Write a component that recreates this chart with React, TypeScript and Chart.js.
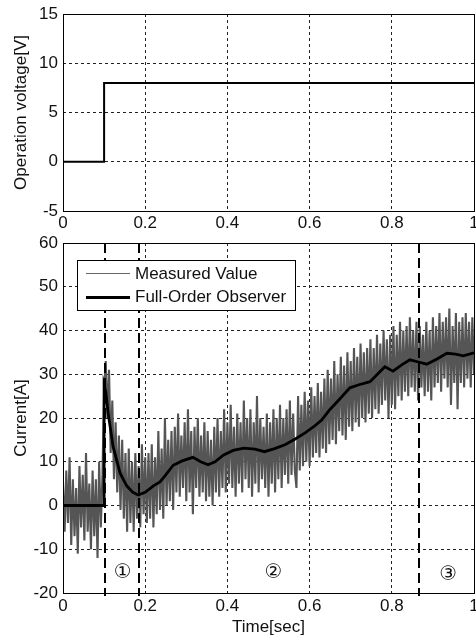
import React, { useEffect, useRef } from 'react';
import { Chart, registerables } from 'chart.js';

Chart.register(...registerables);

// ---------------- data ----------------
// Top panel: operation voltage step
const voltageT = [0, 0.1, 0.1, 1];
const voltageV = [0, 0, 8, 8];

// Bottom panel: full-order observer estimate
const observerT = [0, 0.1, 0.1, 0.104, 0.11, 0.122, 0.139, 0.155, 0.17, 0.183, 0.2, 0.22, 0.236, 0.25, 0.268, 0.29, 0.316, 0.335, 0.353, 0.37, 0.39, 0.414, 0.44, 0.467, 0.49, 0.515, 0.54, 0.565, 0.589, 0.61, 0.629, 0.65, 0.67, 0.698, 0.72, 0.747, 0.765, 0.783, 0.803, 0.825, 0.844, 0.865, 0.885, 0.91, 0.934, 0.955, 0.974, 1.0];
const observerV = [0, 0, 27.5, 26, 21, 13.4, 7.4, 4.5, 3, 2.4, 3, 4.5, 5.4, 7, 9.2, 10.2, 11, 10, 9.3, 10, 11.5, 12.6, 13.1, 12.9, 12.3, 13, 13.9, 15.2, 16.6, 18, 19.5, 22, 24, 26.9, 27.6, 28.3, 30, 31.7, 30.7, 32.2, 33.3, 32.8, 32.3, 33.5, 34.8, 34.6, 34.2, 34.9];

// Bottom panel: measured current, sampled every SAMPLE_DT seconds
const SAMPLE_DT = 0.004;
const measuredV = [
  5, -6, 8, -4, 11, -9, 6, -7, 4, -11, 9, -5, 7, -8, 12, -6, 5, -10, 8, -7, 6, -12, 10, -5, 7,
  26, 33, 20, 31, 12, 24, 6, 19, 3, 16, -1, 15, -3, 12, -6, 13, -4, 10, -6, 12, -3, 9, -5, 14, -2, 11,
  -4, 12, -3, 14, -5, 11, -2, 17, -1, 13, -3, 20, 0, 15, 1, 17, -1, 18, 3, 21, 2, 16, 4, 19, 1, 22, 3, 17, -2, 18, 4, 20, 2, 16, 3, 19, 1, 17, 2, 15, 0, 18, 3, 20, 2, 17, 4, 22, 3, 19,
  5, 23, 4, 18, 2, 21, 5, 19, 3, 24, 6, 20, 4, 22, 2, 19, 5, 25, 3, 20, 6, 18, 4, 21, 2, 19, 5, 22, 3, 20, 6, 23, 4, 20, 7, 22, 5, 24, 7, 21, 8, 4, 25, 8, 23, 9, 26, 10, 24, 9,
  27, 11, 25, 12, 28, 11, 26, 13, 29, 12, 31, 14, 29, 15, 33, 14, 30, 17, 34, 16, 32, 15, 35, 18, 33, 17, 36, 19, 34, 18, 37, 20, 35, 19, 36, 21, 38, 20, 36, 22, 39, 21, 37, 23, 40, 24, 38, 20, 39, 23,
  41, 22, 39, 25, 42, 24, 40, 26, 41, 25, 43, 27, 40, 26, 42, 24, 41, 27, 39, 25, 42, 26, 40, 24, 43, 27, 41, 28, 44, 26, 42, 29, 43, 27, 45, 23, 41, 28, 44, 22, 42, 28, 43, 27, 44, 29, 42, 27, 43, 30,
];

// Phase boundaries (dashed verticals) and phase labels
const phaseBoundaries = [0.101, 0.186, 0.867];
const phaseLabels = ['\u2460', '\u2461', '\u2462'];
const phaseLabelT = [0.145, 0.512, 0.937];
const phaseLabelV = [-15.3, -15.3, -15.8];

const legendLabels = ['Measured Value', 'Full-Order Observer'];

// ---------------- styling ----------------
const FONT = "Arial, 'Liberation Sans', Helvetica, sans-serif";
const TEXT = '#111111';
const GRID = '#222222';
const MEAS_COLOR = '#555555';

const tickFont = { family: FONT, size: 17 };

function fmt(v: number) {
  return String(Math.round(v * 10) / 10);
}

function xScale(height: number, pad: number, title: string | null) {
  return {
    type: 'linear' as const,
    min: 0,
    max: 1,
    ticks: { stepSize: 0.2, color: TEXT, font: tickFont, padding: pad, maxRotation: 0, autoSkip: false, callback: (v: any) => fmt(Number(v)) },
    grid: { color: GRID, lineWidth: 1, drawTicks: false },
    border: { display: false, dash: [3, 3] },
    title: title
      ? { display: true, text: title, color: TEXT, font: tickFont, padding: { top: 0, bottom: 3 } }
      : { display: false },
    afterFit: (s: any) => {
      s.height = height;
      s.paddingLeft = 0;
      s.paddingRight = 0;
    },
  };
}

function yScale(min: number, max: number, step: number, title: string) {
  return {
    type: 'linear' as const,
    min,
    max,
    ticks: { stepSize: step, color: TEXT, font: tickFont, padding: 5, callback: (v: any) => fmt(Number(v)) },
    grid: { color: GRID, lineWidth: 1, drawTicks: false },
    border: { display: false, dash: [3, 3] },
    title: { display: true, text: title, color: TEXT, font: tickFont, padding: { top: 11, bottom: 0 } },
    afterFit: (s: any) => {
      s.width = 63;
      s.paddingTop = 0;
      s.paddingBottom = 0;
    },
  };
}

const boxPlugin = {
  id: 'axesBox',
  afterDraw(chart: any) {
    const { ctx, chartArea: a } = chart;
    ctx.save();
    ctx.strokeStyle = '#000';
    ctx.lineWidth = 1;
    ctx.setLineDash([]);
    ctx.strokeRect(Math.round(a.left) + 0.5, Math.round(a.top) + 0.5, Math.round(a.right - a.left), Math.round(a.bottom - a.top));
    ctx.restore();
  },
};

const phasePlugin = {
  id: 'phases',
  afterDatasetsDraw(chart: any) {
    const { ctx, chartArea: a, scales } = chart;
    ctx.save();
    ctx.strokeStyle = '#000';
    ctx.lineWidth = 2;
    ctx.setLineDash([10, 5]);
    phaseBoundaries.forEach((t) => {
      const x = Math.round(scales.x.getPixelForValue(t));
      ctx.beginPath();
      ctx.moveTo(x, a.top);
      ctx.lineTo(x, a.bottom + 3);
      ctx.stroke();
    });
    ctx.setLineDash([]);
    ctx.fillStyle = TEXT;
    ctx.font = `20px 'DejaVu Sans', 'Noto Sans CJK JP', sans-serif`;
    ctx.textAlign = 'center';
    ctx.textBaseline = 'middle';
    phaseLabels.forEach((lab, i) => {
      ctx.fillText(lab, scales.x.getPixelForValue(phaseLabelT[i]), scales.y.getPixelForValue(phaseLabelV[i]));
    });
    ctx.restore();
  },
};

const legendPlugin = {
  id: 'boxLegend',
  afterDraw(chart: any) {
    const { ctx, chartArea: a } = chart;
    const lx = Math.round(a.left) + 14;
    const ly = Math.round(a.top) + 17;
    const w = 218;
    const h = 50;
    ctx.save();
    ctx.fillStyle = '#fff';
    ctx.fillRect(lx, ly, w, h);
    ctx.strokeStyle = '#000';
    ctx.lineWidth = 1;
    ctx.strokeRect(lx + 0.5, ly + 0.5, w, h);
    const rows = [13, 36.5];
    const styles = [
      { color: '#666666', width: 1 },
      { color: '#000', width: 3 },
    ];
    legendLabels.forEach((lab, i) => {
      const y = ly + rows[i];
      ctx.beginPath();
      ctx.strokeStyle = styles[i].color;
      ctx.lineWidth = styles[i].width;
      ctx.moveTo(lx + 9, Math.round(y) + (styles[i].width % 2 ? 0.5 : 0));
      ctx.lineTo(lx + 53, Math.round(y) + (styles[i].width % 2 ? 0.5 : 0));
      ctx.stroke();
      ctx.fillStyle = TEXT;
      ctx.font = `17px ${FONT}`;
      ctx.textAlign = 'left';
      ctx.textBaseline = 'middle';
      ctx.fillText(lab, lx + 58, y + 1);
    });
    ctx.restore();
  },
};

function topConfig(): any {
  return {
    type: 'line',
    data: {
      datasets: [
        {
          data: voltageT.map((t, i) => ({ x: t, y: voltageV[i] })),
          borderColor: '#000',
          borderWidth: 2,
          pointRadius: 0,
          tension: 0,
          fill: false,
        },
      ],
    },
    options: {
      responsive: false,
      maintainAspectRatio: false,
      animation: false,
      devicePixelRatio: 1,
      events: [],
      layout: { padding: { top: 14, right: 2, bottom: 0, left: 0 } },
      plugins: { legend: { display: false }, tooltip: { enabled: false } },
      scales: {
        x: xScale(27, 2, null),
        y: yScale(-5, 15, 5, 'Operation voltage[V]'),
      },
    },
    plugins: [boxPlugin],
  };
}

function bottomConfig(): any {
  return {
    type: 'line',
    data: {
      datasets: [
        {
          label: legendLabels[1],
          data: observerT.map((t, i) => ({ x: t, y: observerV[i] })),
          borderColor: '#000',
          borderWidth: 2.8,
          pointRadius: 0,
          tension: 0,
          fill: false,
        },
        {
          label: legendLabels[0],
          data: measuredV.map((v, i) => ({ x: i * SAMPLE_DT, y: v })),
          borderColor: MEAS_COLOR,
          borderWidth: 2.1,
          borderJoinStyle: 'bevel',
          pointRadius: 0,
          tension: 0,
          fill: false,
        },
      ],
    },
    options: {
      responsive: false,
      maintainAspectRatio: false,
      animation: false,
      devicePixelRatio: 1,
      events: [],
      layout: { padding: { top: 17, right: 2, bottom: 0, left: 0 } },
      plugins: { legend: { display: false }, tooltip: { enabled: false } },
      scales: {
        x: xScale(48, 3, 'Time[sec]'),
        y: yScale(-20, 60, 10, 'Current[A]'),
      },
    },
    plugins: [phasePlugin, boxPlugin, legendPlugin],
  };
}

export default function App() {
  const topRef = useRef<HTMLCanvasElement>(null);
  const botRef = useRef<HTMLCanvasElement>(null);
  useEffect(() => {
    const top = new Chart(topRef.current as HTMLCanvasElement, topConfig());
    const bot = new Chart(botRef.current as HTMLCanvasElement, bottomConfig());
    return () => {
      top.destroy();
      bot.destroy();
    };
  }, []);
  return (
    <div style={{ position: 'absolute', left: 0, top: 0, width: 476, height: 641, background: '#fff', overflow: 'hidden' }}>
      <canvas ref={topRef} width={476} height={238} style={{ position: 'absolute', left: 0, top: 0, width: 476, height: 238 }} />
      <canvas ref={botRef} width={476} height={415} style={{ position: 'absolute', left: 0, top: 226, width: 476, height: 415 }} />
    </div>
  );
}
